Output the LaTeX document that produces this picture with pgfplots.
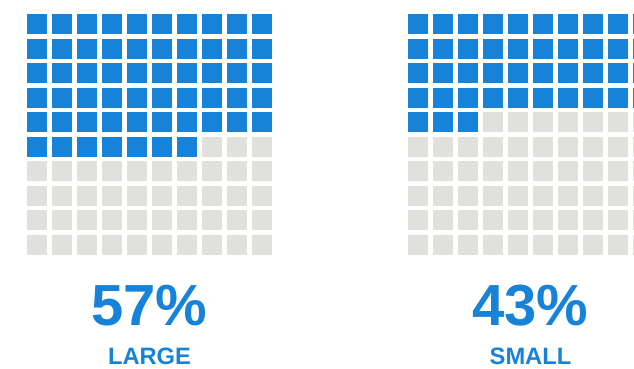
\documentclass[border=0pt]{standalone}
\usepackage{fontspec}
\setmainfont{Liberation Sans}
\usepackage{pgfplots}
\pgfplotsset{compat=1.18}
\definecolor{wblue}{HTML}{1683D8}
\definecolor{wgrey}{HTML}{E0E0DC}
\pgfplotsset{
  waffle/.style={
    hide axis, clip=false, scale only axis,
    x=25pt, y=24.56pt, y dir=reverse,
    xmin=-0.5, xmax=9.5, ymin=-0.5, ymax=9.5,
    anchor=north west,
  },
  cells/.style={only marks, color=#1, mark=square*, mark size=10pt,
    mark options={solid, fill=#1, draw opacity=0, line width=0pt}},
}
\begin{document}
\begin{tikzpicture}
\path[use as bounding box] (0,0) rectangle (634pt,-369pt);
% LARGE: 57 of 100
\begin{axis}[waffle, at={(24.5pt,-11.72pt)}]
\addplot[cells=wblue] coordinates {
(0,0)(1,0)(2,0)(3,0)(4,0)(5,0)(6,0)(7,0)(8,0)(9,0)
(0,1)(1,1)(2,1)(3,1)(4,1)(5,1)(6,1)(7,1)(8,1)(9,1)
(0,2)(1,2)(2,2)(3,2)(4,2)(5,2)(6,2)(7,2)(8,2)(9,2)
(0,3)(1,3)(2,3)(3,3)(4,3)(5,3)(6,3)(7,3)(8,3)(9,3)
(0,4)(1,4)(2,4)(3,4)(4,4)(5,4)(6,4)(7,4)(8,4)(9,4)
(0,5)(1,5)(2,5)(3,5)(4,5)(5,5)(6,5)
};
\addplot[cells=wgrey] coordinates {
(7,5)(8,5)(9,5)
(0,6)(1,6)(2,6)(3,6)(4,6)(5,6)(6,6)(7,6)(8,6)(9,6)
(0,7)(1,7)(2,7)(3,7)(4,7)(5,7)(6,7)(7,7)(8,7)(9,7)
(0,8)(1,8)(2,8)(3,8)(4,8)(5,8)(6,8)(7,8)(8,8)(9,8)
(0,9)(1,9)(2,9)(3,9)(4,9)(5,9)(6,9)(7,9)(8,9)(9,9)
};
\node[anchor=base, text=wblue, font=\fontsize{58}{58}\selectfont\bfseries, inner sep=0pt] at (axis cs:4.5,12.26) {57\%};
\node[anchor=base, text=wblue, font=\fontsize{23.7}{24}\selectfont\bfseries, inner sep=0pt] at (axis cs:4.5,13.88) {LARGE};
\end{axis}
% SMALL: 43 of 100
\begin{axis}[waffle, at={(405.5pt,-11.72pt)}]
\addplot[cells=wblue] coordinates {
(0,0)(1,0)(2,0)(3,0)(4,0)(5,0)(6,0)(7,0)(8,0)(9,0)
(0,1)(1,1)(2,1)(3,1)(4,1)(5,1)(6,1)(7,1)(8,1)(9,1)
(0,2)(1,2)(2,2)(3,2)(4,2)(5,2)(6,2)(7,2)(8,2)(9,2)
(0,3)(1,3)(2,3)(3,3)(4,3)(5,3)(6,3)(7,3)(8,3)(9,3)
(0,4)(1,4)(2,4)
};
\addplot[cells=wgrey] coordinates {
(3,4)(4,4)(5,4)(6,4)(7,4)(8,4)(9,4)
(0,5)(1,5)(2,5)(3,5)(4,5)(5,5)(6,5)(7,5)(8,5)(9,5)
(0,6)(1,6)(2,6)(3,6)(4,6)(5,6)(6,6)(7,6)(8,6)(9,6)
(0,7)(1,7)(2,7)(3,7)(4,7)(5,7)(6,7)(7,7)(8,7)(9,7)
(0,8)(1,8)(2,8)(3,8)(4,8)(5,8)(6,8)(7,8)(8,8)(9,8)
(0,9)(1,9)(2,9)(3,9)(4,9)(5,9)(6,9)(7,9)(8,9)(9,9)
};
\node[anchor=base, text=wblue, font=\fontsize{58}{58}\selectfont\bfseries, inner sep=0pt] at (axis cs:4.5,12.26) {43\%};
\node[anchor=base, text=wblue, font=\fontsize{23.7}{24}\selectfont\bfseries, inner sep=0pt] at (axis cs:4.5,13.88) {SMALL};
\end{axis}
\end{tikzpicture}
\end{document}
